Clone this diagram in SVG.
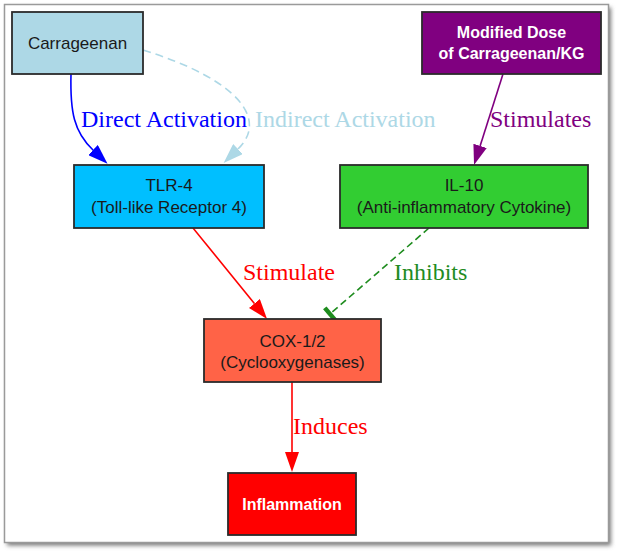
<svg xmlns="http://www.w3.org/2000/svg" width="620" height="555" viewBox="0 0 620 555">
<defs>
<filter id="sh" x="-5%" y="-5%" width="110%" height="110%"><feGaussianBlur stdDeviation="2"/></filter>
<marker id="aBlue" markerUnits="userSpaceOnUse" markerWidth="20" markerHeight="14" refX="0" refY="7" orient="auto"><path d="M0,0 L20,7 L0,14 z" fill="#0000ff"/></marker>
<marker id="aLb" markerUnits="userSpaceOnUse" markerWidth="20" markerHeight="14" refX="0" refY="7" orient="auto"><path d="M0,0 L20,7 L0,14 z" fill="#add8e6"/></marker>
<marker id="aPur" markerUnits="userSpaceOnUse" markerWidth="20" markerHeight="14" refX="0" refY="7" orient="auto"><path d="M0,0 L20,7 L0,14 z" fill="#800080"/></marker>
<marker id="aRed" markerUnits="userSpaceOnUse" markerWidth="20" markerHeight="14" refX="0" refY="7" orient="auto"><path d="M0,0 L20,7 L0,14 z" fill="#ff0000"/></marker>
</defs>
<style>
.box{stroke:#2b2b2b;stroke-width:1.8}
.t{font-family:"Liberation Sans",Arial,sans-serif;font-size:17px;fill:#1a1a1a;text-anchor:middle}
.tb{font-family:"Liberation Sans",Arial,sans-serif;font-size:16px;font-weight:bold;fill:#ffffff;text-anchor:middle}
.lbl{font-family:"Liberation Serif","Times New Roman",serif;font-size:24px}
.e{fill:none;stroke-width:1.6}
</style>
<rect x="0" y="0" width="620" height="555" fill="#ffffff"/>
<rect x="7" y="7.5" width="604" height="538" fill="#7a7a7a" filter="url(#sh)"/>
<rect x="4.5" y="4.5" width="604" height="538" fill="#ffffff" stroke="#9a9a9a" stroke-width="1.5"/>

<g id="connectors">
<path class="e" d="M71,74 C70,112 74,132 93,150" stroke="#0000ff" marker-end="url(#aBlue)"/>
<path class="e" d="M143,50 C240,80 268,120 238,149" stroke="#add8e6" stroke-dasharray="8,5" marker-end="url(#aLb)"/>
<path class="e" d="M503,74 L480.1,145.9" stroke="#800080" stroke-width="2.6" marker-end="url(#aPur)"/>
<path class="e" d="M193,228 L254.4,303.5" stroke="#ff0000" marker-end="url(#aRed)"/>
<path class="e" d="M429,228 L330,314" stroke="#1e8c1e" stroke-width="1.8" stroke-dasharray="7,4"/>
<path d="M324.8,307.9 L335.2,320.1" stroke="#1e8c1e" stroke-width="4.5" fill="none"/>
<path class="e" d="M292,382 L292,452" stroke="#ff0000" marker-end="url(#aRed)"/>
<text class="lbl" x="81" y="127" fill="#0000ff">Direct Activation</text>
<text class="lbl" x="255" y="127" fill="#add8e6">Indirect Activation</text>
<text class="lbl" x="490" y="127" fill="#800080">Stimulates</text>
<text class="lbl" x="243" y="280" fill="#ff0000">Stimulate</text>
<text class="lbl" x="394" y="280" fill="#228b22">Inhibits</text>
<text class="lbl" x="293" y="434" fill="#ff0000">Induces</text>
</g>

<g id="carrageenan">
<rect class="box" x="12" y="12" width="131" height="62" fill="#add8e6"/>
<text class="t" x="77.5" y="49">Carrageenan</text>
</g>
<g id="modified-dose">
<rect class="box" x="422" y="12" width="179" height="62" fill="#800080"/>
<text class="tb" x="511.5" y="38">Modified Dose</text>
<text class="tb" x="511.5" y="59">of Carrageenan/KG</text>
</g>
<g id="tlr4">
<rect class="box" x="74" y="165" width="190" height="63" fill="#00bfff"/>
<text class="t" x="169" y="191">TLR-4</text>
<text class="t" x="169" y="213">(Toll-like Receptor 4)</text>
</g>
<g id="il10">
<rect class="box" x="340" y="165" width="248" height="63" fill="#32cd32"/>
<text class="t" x="464" y="191">IL-10</text>
<text class="t" x="464" y="213">(Anti-inflammatory Cytokine)</text>
</g>
<g id="cox">
<rect class="box" x="204" y="319" width="177" height="63" fill="#ff6347"/>
<text class="t" x="292.5" y="347">COX-1/2</text>
<text class="t" x="292.5" y="368">(Cyclooxygenases)</text>
</g>
<g id="inflammation">
<rect class="box" x="228" y="473" width="128" height="62" fill="#ff0000"/>
<text class="tb" x="292" y="510">Inflammation</text>
</g>
</svg>
